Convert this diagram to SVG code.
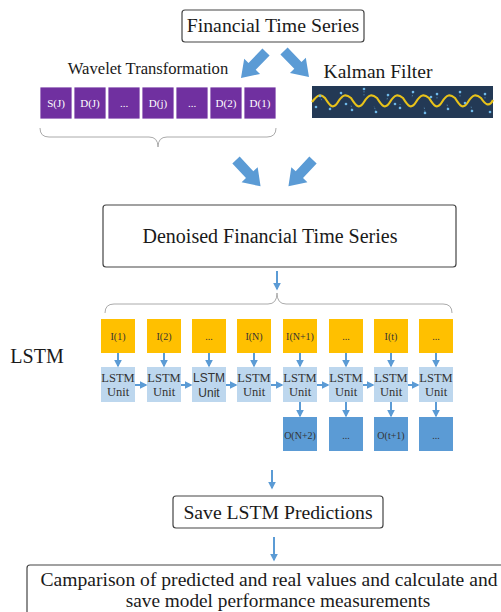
<svg xmlns="http://www.w3.org/2000/svg" width="501" height="612" viewBox="0 0 501 612">
<defs>
<style>
.box{fill:#fff;stroke:#444;stroke-width:1.2}
.t{font-family:"Liberation Serif","Times New Roman",serif;fill:#1a1a1a}
.barrow{fill:#5B9BD5}
.wv{fill:#7030A0;stroke:#fff;stroke-width:0.8}
.wt{font-family:"Liberation Serif",serif;font-size:11px;fill:#fff;text-anchor:middle}
.inp{fill:#FFC000}
.unit{fill:#BDD7EE}
.out{fill:#5B9BD5}
.st{font-family:"Liberation Serif",serif;font-size:10px;fill:#333;text-anchor:middle}
.ut{font-family:"Liberation Serif",serif;font-size:12.5px;fill:#333;text-anchor:middle}
.brace{fill:none;stroke:#aaa;stroke-width:1}
.sa{stroke:#5B9BD5;stroke-width:2;fill:none;marker-end:url(#ah)}
.dot{fill:#6fb8e8}
</style>
<marker id="ah" viewBox="0 0 10 10" refX="8" refY="5" markerWidth="4" markerHeight="4" orient="auto" markerUnits="strokeWidth">
<path d="M0,0 L10,5 L0,10 Z" fill="#5B9BD5"/>
</marker>
<path id="big" d="M0,-5 L20,-5 L20,-11 L36,0 L20,11 L20,5 L0,5 Z"/>
</defs>
<rect width="501" height="612" fill="#fff"/>

<g id="fts">
<rect class="box" x="182" y="10" width="182" height="32" rx="3"/>
<text class="t" x="273" y="32" font-size="19.8" text-anchor="middle">Financial Time Series</text>
</g>

<g id="wavelet">
<text class="t" x="148" y="74" font-size="16.6" text-anchor="middle">Wavelet Transformation</text>
<rect class="wv" x="40" y="87" width="32" height="32"/>
<rect class="wv" x="74" y="87" width="32" height="32"/>
<rect class="wv" x="108" y="87" width="32" height="32"/>
<rect class="wv" x="142" y="87" width="32" height="32"/>
<rect class="wv" x="176" y="87" width="32" height="32"/>
<rect class="wv" x="210" y="87" width="32" height="32"/>
<rect class="wv" x="244" y="87" width="32" height="32"/>
<text class="wt" x="56" y="107">S(J)</text>
<text class="wt" x="90" y="107">D(J)</text>
<text class="wt" x="124" y="107">...</text>
<text class="wt" x="158" y="107">D(j)</text>
<text class="wt" x="192" y="107">...</text>
<text class="wt" x="226" y="107">D(2)</text>
<text class="wt" x="260" y="107">D(1)</text>
<path class="brace" d="M40,128 Q40,137 49,137 L149,137 Q158,137 158,147 Q158,137 167,137 L267,137 Q276,137 276,128"/>
</g>

<g id="kalman">
<text class="t" x="378" y="78" font-size="19.5" text-anchor="middle">Kalman Filter</text>
<rect x="312" y="86" width="181" height="32" fill="#233955"/>
<g stroke="#6fb8e8" stroke-width="0.5" stroke-dasharray="1.5,1.5">
<path d="M320,96 L322,101 M330,109 L331,104 M341,93 L343,99 M352,110 L351,105 M364,91 L364,97 M376,112 L374,106 M388,95 L387,100 M400,108 L400,104 M413,92 L412,98 M425,112 L424,106 M437,94 L437,99 M448,109 L447,104 M460,92 L460,98 M472,111 L471,106 M485,94 L485,99"/>
</g>
<path d="M312,102 C318,94 321,94 325,98 C330,106 333,110 338,102 C343,94 346,94 351,98 C356,106 359,110 364,102 C369,94 372,94 377,98 C382,106 385,110 390,102 C395,94 398,94 403,98 C408,106 411,110 416,102 C421,94 424,94 429,98 C434,106 437,110 442,102 C447,94 450,94 455,98 C460,106 463,110 468,102 C473,94 476,94 481,98 C485,104 489,108 493,100" fill="none" stroke="#E8C21A" stroke-width="2.2"/>
<g class="dot">
<circle cx="320" cy="96" r="1.3"/><circle cx="330" cy="109" r="1.3"/><circle cx="341" cy="93" r="1.3"/><circle cx="352" cy="110" r="1.3"/><circle cx="364" cy="89" r="1.3"/><circle cx="376" cy="112" r="1.3"/><circle cx="388" cy="95" r="1.3"/><circle cx="400" cy="108" r="1.3"/><circle cx="413" cy="92" r="1.3"/><circle cx="425" cy="113" r="1.3"/><circle cx="437" cy="94" r="1.3"/><circle cx="448" cy="109" r="1.3"/><circle cx="460" cy="92" r="1.3"/><circle cx="472" cy="111" r="1.3"/><circle cx="485" cy="94" r="1.3"/><circle cx="316" cy="107" r="1.3"/><circle cx="346" cy="104" r="1.3"/><circle cx="395" cy="104" r="1.3"/><circle cx="431" cy="97" r="1.3"/><circle cx="465" cy="103" r="1.3"/><circle cx="490" cy="112" r="1.3"/>
</g>
</g>

<g id="denoised">
<rect class="box" x="103" y="205" width="353" height="62" rx="3"/>
<text class="t" x="270" y="243" font-size="20" text-anchor="middle">Denoised Financial Time Series</text>
</g>

<g id="lstm-label">
<text class="t" x="37" y="363" font-size="20" text-anchor="middle">LSTM</text>
</g>

<g id="lstm">
<path class="brace" d="M105,313 Q105,304 114,304 L268,304 Q277,304 277,293 Q277,304 286,304 L443,304 Q452,304 452,313"/>
<g id="inputs">
<rect class="inp" x="101" y="319" width="34" height="34"/>
<rect class="inp" x="147" y="319" width="34" height="34"/>
<rect class="inp" x="192" y="319" width="34" height="34"/>
<rect class="inp" x="237" y="319" width="34" height="34"/>
<rect class="inp" x="283" y="319" width="34" height="34"/>
<rect class="inp" x="329" y="319" width="34" height="34"/>
<rect class="inp" x="374" y="319" width="34" height="34"/>
<rect class="inp" x="419" y="319" width="34" height="34"/>
<text class="st" x="118" y="340">I(1)</text>
<text class="st" x="164" y="340">I(2)</text>
<text class="st" x="209" y="340">...</text>
<text class="st" x="254" y="340">I(N)</text>
<text class="st" x="300" y="340">I(N+1)</text>
<text class="st" x="346" y="340">...</text>
<text class="st" x="391" y="340">I(t)</text>
<text class="st" x="436" y="340">...</text>
</g>
<g id="units">
<rect class="unit" x="101" y="367" width="34" height="35"/>
<rect class="unit" x="147" y="367" width="34" height="35"/>
<rect class="unit" x="192" y="367" width="34" height="35"/>
<rect class="unit" x="237" y="367" width="34" height="35"/>
<rect class="unit" x="283" y="367" width="34" height="35"/>
<rect class="unit" x="329" y="367" width="34" height="35"/>
<rect class="unit" x="374" y="367" width="34" height="35"/>
<rect class="unit" x="419" y="367" width="34" height="35"/>
<text class="ut" x="118" y="382">LSTM</text><text class="ut" x="118" y="396">Unit</text>
<text class="ut" x="164" y="382">LSTM</text><text class="ut" x="164" y="396">Unit</text>
<text class="ut" x="209" y="382" style="font-family:'Liberation Sans',Arial,sans-serif;font-size:12px">LSTM</text><text class="ut" x="209" y="397" style="font-family:'Liberation Sans',Arial,sans-serif;font-size:12px">Unit</text>
<text class="ut" x="254" y="382">LSTM</text><text class="ut" x="254" y="396">Unit</text>
<text class="ut" x="300" y="382">LSTM</text><text class="ut" x="300" y="396">Unit</text>
<text class="ut" x="346" y="382">LSTM</text><text class="ut" x="346" y="396">Unit</text>
<text class="ut" x="391" y="382">LSTM</text><text class="ut" x="391" y="396">Unit</text>
<text class="ut" x="436" y="382">LSTM</text><text class="ut" x="436" y="396">Unit</text>
</g>
<g id="outputs">
<rect class="out" x="283" y="417" width="34" height="34"/>
<rect class="out" x="329" y="417" width="34" height="34"/>
<rect class="out" x="374" y="417" width="34" height="34"/>
<rect class="out" x="419" y="417" width="34" height="34"/>
<text class="st" x="300" y="439">O(N+2)</text>
<text class="st" x="346" y="439">...</text>
<text class="st" x="391" y="439">O(t+1)</text>
<text class="st" x="436" y="439">...</text>
</g>
</g>

<g id="save">
<rect class="box" x="173" y="496" width="210" height="32" rx="3"/>
<text class="t" x="278" y="519" font-size="19.7" text-anchor="middle">Save LSTM Predictions</text>
</g>

<g id="compare">
<rect class="box" x="27" y="565" width="490" height="60" rx="3"/>
<text class="t" x="269" y="586" font-size="19.6" text-anchor="middle">Camparison of predicted and real values and calculate and</text>
<text class="t" x="278" y="607" font-size="19.3" text-anchor="middle">save model performance measurements</text>
</g>

<g id="connectors">
<use href="#big" class="barrow" transform="translate(266,52) rotate(134)"/>
<use href="#big" class="barrow" transform="translate(284,51) rotate(46)"/>
<use href="#big" class="barrow" transform="translate(236,160) rotate(47)"/>
<use href="#big" class="barrow" transform="translate(313,160) rotate(133)"/>
<line class="sa" x1="277" y1="271" x2="277" y2="289"/>
<line class="sa" x1="118" y1="353" x2="118" y2="366"/>
<line class="sa" x1="164" y1="353" x2="164" y2="366"/>
<line class="sa" x1="209" y1="353" x2="209" y2="366"/>
<line class="sa" x1="254" y1="353" x2="254" y2="366"/>
<line class="sa" x1="300" y1="353" x2="300" y2="366"/>
<line class="sa" x1="346" y1="353" x2="346" y2="366"/>
<line class="sa" x1="391" y1="353" x2="391" y2="366"/>
<line class="sa" x1="436" y1="353" x2="436" y2="366"/>
<line class="sa" x1="135" y1="385" x2="146" y2="385"/>
<line class="sa" x1="181" y1="385" x2="191" y2="385"/>
<line class="sa" x1="226" y1="385" x2="236" y2="385"/>
<line class="sa" x1="271" y1="385" x2="282" y2="385"/>
<line class="sa" x1="317" y1="385" x2="328" y2="385"/>
<line class="sa" x1="363" y1="385" x2="373" y2="385"/>
<line class="sa" x1="408" y1="385" x2="418" y2="385"/>
<line class="sa" x1="300" y1="402" x2="300" y2="416"/>
<line class="sa" x1="346" y1="402" x2="346" y2="416"/>
<line class="sa" x1="391" y1="402" x2="391" y2="416"/>
<line class="sa" x1="436" y1="402" x2="436" y2="416"/>
<line class="sa" x1="272" y1="470" x2="272" y2="488"/>
<line class="sa" x1="274" y1="537" x2="274" y2="560"/>
</g>
</svg>
